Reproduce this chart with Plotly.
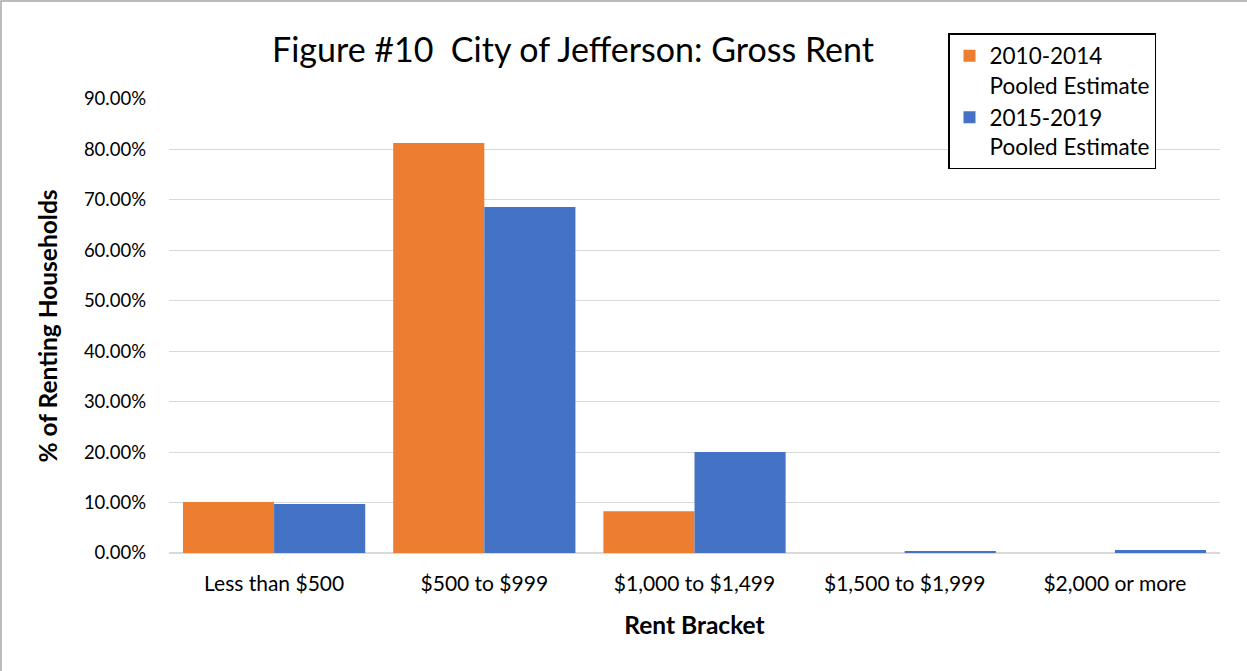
import plotly.graph_objects as go

categories = ["Less than $500", "$500 to $999", "$1,000 to $1,499", "$1,500 to $1,999", "$2,000 or more"]
series_2010_2014 = [0.101, 0.813, 0.083, 0.0, 0.0]
series_2015_2019 = [0.097, 0.686, 0.200, 0.004, 0.006]
tick_vals = [0, 0.1, 0.2, 0.3, 0.4, 0.5, 0.6, 0.7, 0.8, 0.9]

FONT = "Lato"
L, R, T, B = 169, 27, 99, 118
W, H = 1247, 671
pw, ph = W - L - R, H - T - B

fig = go.Figure()
fig.add_trace(go.Bar(x=categories, y=series_2010_2014, name="2010-2014<br>Pooled Estimate",
                     marker=dict(color="#ED7D31", line=dict(width=0))))
fig.add_trace(go.Bar(x=categories, y=series_2015_2019, name="2015-2019<br>Pooled Estimate",
                     marker=dict(color="#4472C4", line=dict(width=0))))

fig.update_layout(
    width=W, height=H,
    margin=dict(l=L, r=R, t=T, b=B, autoexpand=False),
    paper_bgcolor="white", plot_bgcolor="white",
    barmode="group", bargap=0.133, bargroupgap=0,
    font=dict(family=FONT, color="#000000"),
    title=dict(text="Figure #10  City of Jefferson: Gross Rent", x=573 / W, xanchor="center",
               y=1 - 50 / H, yanchor="middle", font=dict(family=FONT, size=34, color="#000000")),
    showlegend=True,
    legend=dict(x=(948 - L) / pw, y=(H - B - 33) / ph, xanchor="left", yanchor="top",
                bordercolor="#000000", borderwidth=1.5, bgcolor="white",
                font=dict(family=FONT, size=22.5, color="#000000"), valign="top",
                tracegroupgap=0, itemsizing="constant"),
    xaxis=dict(showgrid=False, showline=False, ticks="", tickfont=dict(family=FONT, size=21, color="#000000"),
               ticklabelstandoff=16,
               title=dict(text="<b>Rent Bracket</b>", font=dict(family=FONT, size=24.5, color="#000000"), standoff=22)),
    yaxis=dict(range=[0, 0.9], tickvals=tick_vals, tickformat=".2%", showgrid=True, gridcolor="#D9D9D9",
               gridwidth=1.3, zeroline=True, zerolinecolor="#D9D9D9", zerolinewidth=1.5, showline=False, ticks="",
               tickfont=dict(family=FONT, size=18.5, color="#000000"), ticklabelstandoff=22,
               title=dict(text="<b>% of Renting Households</b>", font=dict(family=FONT, size=24.5, color="#000000"),
                          standoff=19)),
)

# outer chart frame (gray) at left/top of the image
fig.add_shape(type="rect", xref="paper", yref="paper",
              x0=(1 - L) / pw, x1=(W + 5 - L) / pw, y0=(H - B - (H + 5)) / ph, y1=(H - B - 1) / ph,
              line=dict(color="#A6A6A6", width=1.5), fillcolor="rgba(0,0,0,0)", layer="below")

fig.write_html("out.html", config={"displayModeBar": False},
               post_script="document.body.style.margin='0px';document.body.style.overflow='hidden';")
